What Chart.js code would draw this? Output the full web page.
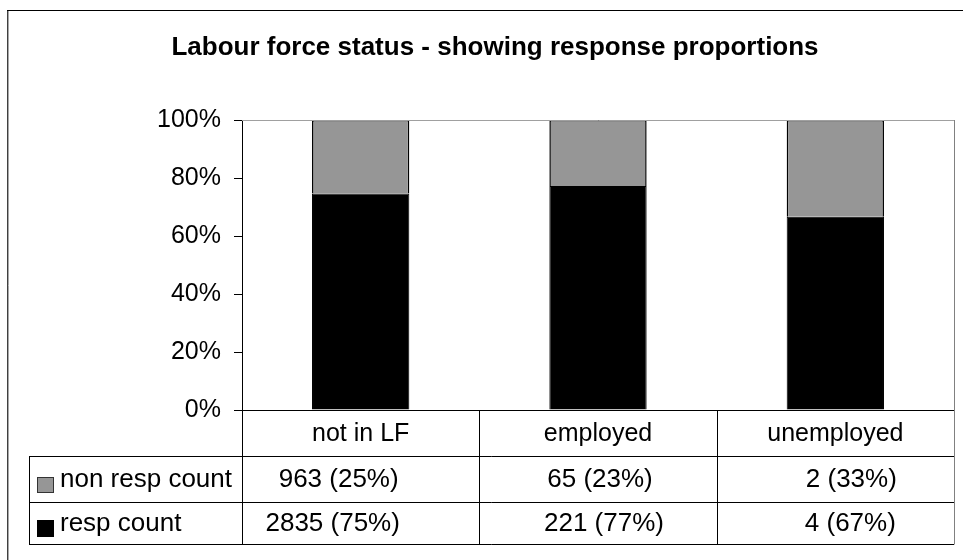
<!DOCTYPE html>
<html><head><meta charset="utf-8">
<script src="https://cdn.jsdelivr.net/npm/chart.js@4/dist/chart.umd.min.js"></script>
<style>html,body{margin:0;padding:0;background:#fff;}#wrap{width:963px;height:560px;position:relative;}canvas{display:block;}</style>
</head><body><div id="wrap"><canvas id="c" width="963" height="560"></canvas></div>
<script>
// ---- data ----
const categories = ['not in LF', 'employed', 'unemployed'];
const respCount = [2835, 221, 4];
const nonRespCount = [963, 65, 2];
const seriesNames = ['non resp count', 'resp count'];
const yTickValues = [0, 20, 40, 60, 80, 100];
const titleText = 'Labour force status - showing response proportions';

const totals = categories.map((_, i) => respCount[i] + nonRespCount[i]);
const respPct = respCount.map((v, i) => v / totals[i] * 100);
const nonRespPct = nonRespCount.map((v, i) => v / totals[i] * 100);
const label = (v, p) => v + ' (' + Math.round(p) + '%)';

const FONT = '"Liberation Sans", Arial, sans-serif';
const TICK = 25;
const TXT = 26;
const GRAY = '#969696';

const framePlugin = {
  id: 'frameAndTable',
  beforeDraw(chart) {
    const ctx = chart.ctx;
    ctx.save();
    ctx.fillStyle = '#fff';
    ctx.fillRect(0, 0, chart.width, chart.height);
    ctx.lineWidth = 1;
    ctx.strokeStyle = '#404040';
    ctx.beginPath(); ctx.moveTo(7.5, 10); ctx.lineTo(7.5, chart.height); ctx.stroke();
    ctx.strokeStyle = '#a8a8a8';
    ctx.beginPath(); ctx.moveTo(8.5, 11); ctx.lineTo(8.5, chart.height); ctx.stroke();
    ctx.strokeStyle = '#000';
    ctx.beginPath(); ctx.moveTo(7, 10.5); ctx.lineTo(chart.width, 10.5); ctx.stroke();
    ctx.restore();
  },
  afterDraw(chart, args, opts) {
    const {ctx, chartArea: a, scales: {x}} = chart;
    const top = a.bottom;
    const r1 = top + 46, r2 = r1 + 46, r3 = r2 + 42;
    const tLeft = 29.5;
    const colEdges = [];
    for (let i = 0; i <= categories.length; i++) colEdges.push(Math.round(x.getPixelForValue(i - 0.5)) + 0.5);
    const right = Math.round(a.right) + 0.5;
    ctx.save();
    ctx.lineWidth = 1;
    // plot area border (grey)
    ctx.strokeStyle = '#a0a0a0';
    ctx.beginPath(); ctx.moveTo(a.left, Math.round(a.top) + 0.5); ctx.lineTo(right, Math.round(a.top) + 0.5); ctx.stroke();
    ctx.strokeStyle = '#808080';
    ctx.beginPath(); ctx.moveTo(right, a.top); ctx.lineTo(right, r3 + 0.5); ctx.stroke();
    // table lines
    ctx.strokeStyle = '#000';
    ctx.beginPath();
    ctx.moveTo(a.left - 8, Math.round(top) + 0.5); ctx.lineTo(right - 0.5, Math.round(top) + 0.5);
    [r1, r2, r3].forEach(r => { ctx.moveTo(tLeft, r + 0.5); ctx.lineTo(right - 0.5, r + 0.5); });
    ctx.moveTo(tLeft, r1); ctx.lineTo(tLeft, r3 + 1);
    colEdges.slice(0, -1).forEach(cx => { ctx.moveTo(cx, top); ctx.lineTo(cx, r3 + 1); });
    ctx.stroke();
    // texts
    ctx.fillStyle = '#000';
    ctx.textBaseline = 'middle';
    ctx.textAlign = 'center';
    const rows = [
      nonRespCount.map((v, i) => label(v, nonRespPct[i])),
      respCount.map((v, i) => label(v, respPct[i]))
    ];
    const off = opts.cellShift || [[0, 0], [0, 0], [0, 0]];
    categories.forEach((c, i) => {
      const cx = x.getPixelForValue(i);
      ctx.font = TICK + 'px ' + FONT;
      ctx.fillText(c, cx, (top + r1) / 2 + 1);
      ctx.font = TXT + 'px ' + FONT;
      ctx.fillText(rows[0][i], cx + off[i][0], (r1 + r2) / 2 + 1);
      ctx.fillText(rows[1][i], cx + off[i][1], (r2 + r3) / 2 + 1);
    });
    // legend keys
    ctx.textAlign = 'left';
    ctx.font = TXT + 'px ' + FONT;
    ctx.fillText(seriesNames[0], 60, (r1 + r2) / 2 + 1);
    ctx.fillText(seriesNames[1], 60, (r2 + r3) / 2 + 1);
    ctx.fillStyle = GRAY; ctx.fillRect(37, 477, 17, 16);
    ctx.strokeStyle = '#333'; ctx.strokeRect(37.5, 477.5, 16, 15);
    ctx.fillStyle = '#000'; ctx.fillRect(37, 520, 17, 17);
    ctx.restore();
  }
};

new Chart(document.getElementById('c'), {
  type: 'bar',
  data: {
    labels: categories,
    datasets: [
      { label: seriesNames[1], data: respPct, backgroundColor: '#000', borderColor: '#000', borderWidth: 1,
        barPercentage: 0.41, categoryPercentage: 1 },
      { label: seriesNames[0], data: nonRespPct, backgroundColor: GRAY, borderColor: '#000', borderWidth: 1.5,
        barPercentage: 0.41, categoryPercentage: 1 }
    ]
  },
  options: {
    responsive: false,
    animation: false,
    devicePixelRatio: 1,
    layout: { padding: { left: 36, right: 9, top: 0, bottom: 150 } },
    plugins: {
      legend: { display: false },
      tooltip: { enabled: false },
      title: {
        display: true, text: titleText, color: '#000',
        font: { family: FONT, size: 26, weight: 'bold', lineHeight: 1.2 },
        padding: { top: 32, bottom: 56.8 }
      },
      frameAndTable: { cellShift: [[-22, -28], [2, 6], [16, 15]] }
    },
    scales: {
      x: { stacked: true, display: false, offset: true },
      y: {
        stacked: true, min: 0, max: 100,
        afterFit(s) { s.width = 206; },
        afterBuildTicks(s) { s.ticks = yTickValues.map(v => ({ value: v })); },
        ticks: { callback: v => v + '%', color: '#000', padding: 13, font: { family: FONT, size: TICK } },
        grid: { drawOnChartArea: false, drawTicks: true, tickLength: 8, color: '#000' },
        border: { display: true, color: '#000', width: 1 }
      }
    }
  },
  plugins: [framePlugin]
});
</script>
</body></html>
